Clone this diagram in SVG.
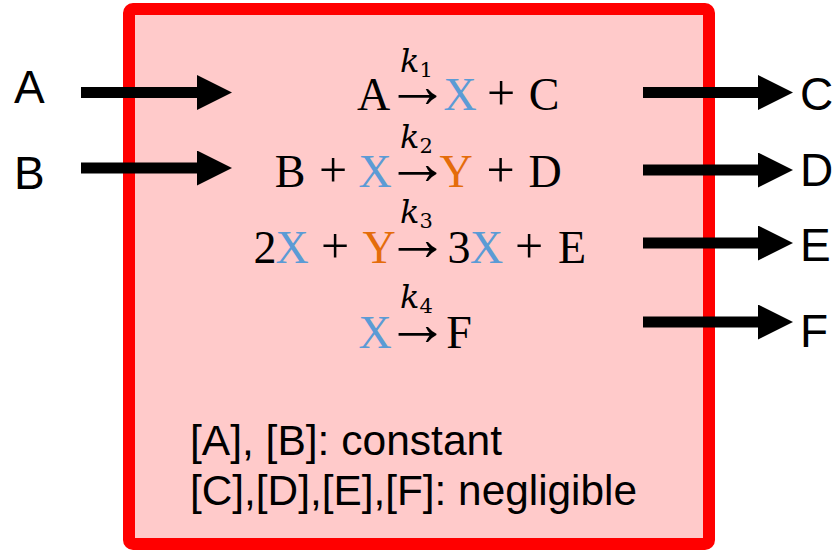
<svg xmlns="http://www.w3.org/2000/svg" width="838" height="550" viewBox="0 0 838 550">
<style>
.lbl{font-family:"Liberation Sans",Arial,sans-serif;font-size:46px;fill:#000}
.eq{font-family:"Liberation Serif","DejaVu Serif",serif;font-size:46px;fill:#000;text-anchor:middle}
.op{font-family:"Liberation Serif","DejaVu Serif",serif;font-size:50px;fill:#000;text-anchor:middle}
.to{font-family:"Liberation Serif","DejaVu Serif",serif;font-size:40px;fill:#000;text-anchor:middle}
.x{fill:#5B9BD5}
.y{fill:#E46C0A}
.k{font-family:"DejaVu Serif","Liberation Serif",serif;font-style:italic;font-size:32px;fill:#000}
.sub{font-style:normal;font-size:21px}
.note{font-family:"Liberation Sans",Arial,sans-serif;font-size:42px;fill:#000}
.arr{stroke:#000;stroke-width:11;fill:none;marker-end:url(#head)}
</style>
<defs>
<marker id="head" markerUnits="userSpaceOnUse" markerWidth="36" markerHeight="36" refX="0" refY="17.5" orient="auto">
<path d="M0,0 L35,17.5 L0,35 Z" fill="#000"/>
</marker>
</defs>
<g id="reactor">
<rect x="129" y="9" width="580" height="535" rx="4" fill="#FFCACA" stroke="#FF0000" stroke-width="12"/>
</g>
<g id="connectors">
<line class="arr" x1="81" y1="92.5" x2="197" y2="92.5"/>
<line class="arr" x1="81" y1="168" x2="197" y2="168"/>
<line class="arr" x1="643" y1="92.5" x2="758" y2="92.5"/>
<line class="arr" x1="643" y1="170" x2="758" y2="170"/>
<line class="arr" x1="643" y1="243" x2="758" y2="243"/>
<line class="arr" x1="643" y1="322" x2="758" y2="322"/>
</g>
<g id="inputs">
<text class="lbl" x="14" y="103">A</text>
<text class="lbl" x="14" y="189">B</text>
</g>
<g id="outputs">
<text class="lbl" x="800" y="110">C</text>
<text class="lbl" x="800" y="186">D</text>
<text class="lbl" x="800" y="261">E</text>
<text class="lbl" x="800" y="347">F</text>
</g>
<g id="reaction1">
<text class="eq" x="373.5" y="110">A</text>
<text class="to" transform="translate(417.5,107) scale(1.6,1.6)">→</text>
<text class="eq x" x="460" y="110">X</text>
<text class="op" x="501" y="110">+</text>
<text class="eq" x="544" y="110">C</text>
<text class="k" x="400" y="72">k<tspan class="sub" dy="5">1</tspan></text>
</g>
<g id="reaction2">
<text class="eq" x="290" y="187">B</text>
<text class="op" x="333" y="187">+</text>
<text class="eq x" x="375" y="187">X</text>
<text class="to" transform="translate(417.5,184) scale(1.6,1.6)">→</text>
<text class="eq y" x="456" y="187">Y</text>
<text class="op" x="500.5" y="187">+</text>
<text class="eq" x="545" y="187">D</text>
<text class="k" x="400" y="148">k<tspan class="sub" dy="5">2</tspan></text>
</g>
<g id="reaction3">
<text class="eq" x="265" y="263">2</text>
<text class="eq x" x="292" y="263">X</text>
<text class="op" x="335" y="263">+</text>
<text class="eq y" x="379" y="263">Y</text>
<text class="to" transform="translate(417.5,260) scale(1.6,1.6)">→</text>
<text class="eq" x="459" y="263">3</text>
<text class="eq x" x="486.5" y="263">X</text>
<text class="op" x="529" y="263">+</text>
<text class="eq" x="572" y="263">E</text>
<text class="k" x="400" y="223">k<tspan class="sub" dy="5">3</tspan></text>
</g>
<g id="reaction4">
<text class="eq x" x="375" y="348">X</text>
<text class="to" transform="translate(417.5,345) scale(1.6,1.6)">→</text>
<text class="eq" x="459" y="348">F</text>
<text class="k" x="400" y="308">k<tspan class="sub" dy="5">4</tspan></text>
</g>
<g id="notes">
<text class="note" x="190" y="455" textLength="312" lengthAdjust="spacingAndGlyphs">[A], [B]: constant</text>
<text class="note" x="190" y="505" textLength="447" lengthAdjust="spacingAndGlyphs">[C],[D],[E],[F]: negligible</text>
</g>
</svg>
